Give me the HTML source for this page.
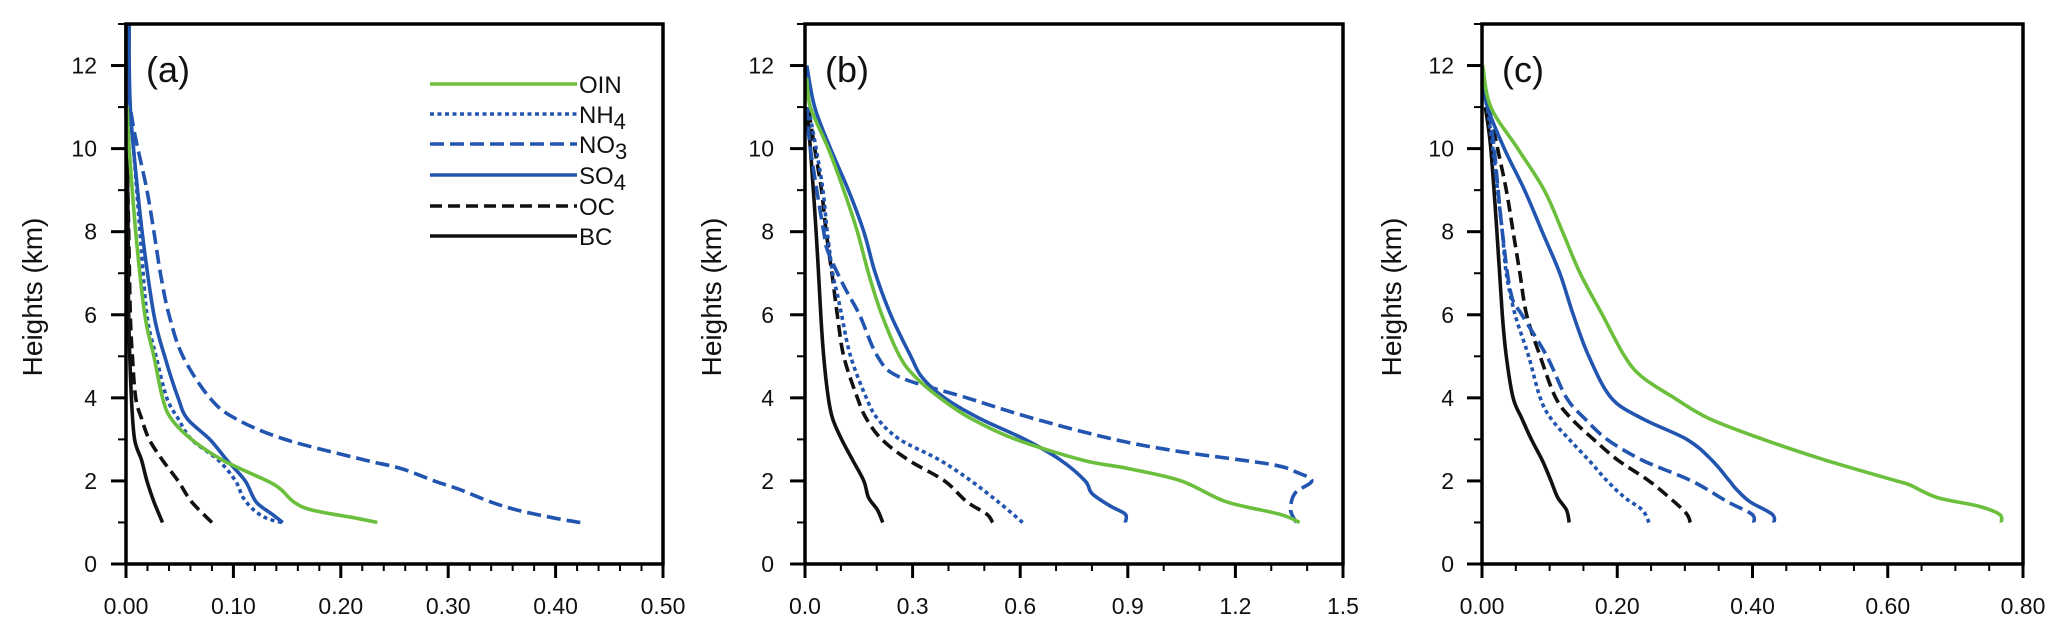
<!DOCTYPE html>
<html><head><meta charset="utf-8"><style>
body{margin:0;background:#fff}
svg{display:block;font-family:"Liberation Sans",Arial,sans-serif}
</style></head><body>
<svg id="chart" width="2067" height="638" viewBox="0 0 2067 638"></svg>
<script>
const heightsA_BC=[1,1.5,2,2.5,3,4,6,8,10,11,13];
const valsA_BC=[0.034,0.026,0.0195,0.0145,0.008,0.005,0.0025,0.002,0.001,0,0];
const heightsA_OC=[1,1.5,2,2.5,3,3.5,4,5,6,8,10,11];
const valsA_OC=[0.080,0.061,0.0485,0.034,0.0216,0.0145,0.009,0.006,0.004,0.0025,0.001,0.0005];
const heightsA_NH4=[1,1.1,1.3,1.6,2,2.5,3,3.5,4,5,6,8,10,11,11.5];
const valsA_NH4=[0.145,0.131,0.119,0.109,0.102,0.086,0.061,0.0485,0.038,0.028,0.0195,0.013,0.007,0.003,0.001];
const heightsA_NO3=[1,1.1,1.3,1.5,1.8,2,2.3,2.5,3,3.5,4,5,6,7,8,9,10,10.5,11,11.5];
const valsA_NO3=[0.423,0.40,0.364,0.339,0.31,0.287,0.256,0.223,0.148,0.102,0.078,0.053,0.040,0.032,0.026,0.0195,0.011,0.007,0.004,0.002];
const heightsA_SO4=[1,1.2,1.5,2,2.5,3,3.5,4,5,6,8,10,11,12,13];
const valsA_SO4=[0.146,0.136,0.121,0.111,0.094,0.078,0.057,0.0485,0.036,0.026,0.015,0.007,0.004,0.003,0.003];
const heightsA_OIN=[1,1.1,1.3,1.5,1.8,2,2.5,3,3.5,4,5,6,8,10,11];
const valsA_OIN=[0.234,0.215,0.173,0.156,0.144,0.1315,0.090,0.061,0.042,0.034,0.026,0.0175,0.009,0.003,0.001];

const heightsB_BC=[1,1.3,1.6,2,2.5,3,3.5,4,5,6,8,10,11];
const valsB_BC=[0.217,0.202,0.177,0.164,0.133,0.102,0.077,0.065,0.052,0.044,0.031,0.015,0.005];
const heightsB_OC=[1,1.2,1.5,2,2.5,3,3.5,4,5,6,7,8,9,10,11];
const valsB_OC=[0.523,0.507,0.451,0.389,0.289,0.214,0.171,0.146,0.108,0.09,0.075,0.059,0.046,0.027,0.009];
const heightsB_NH4=[1,1.5,2,2.5,3,3.5,4,5,6,6.5,7,8,9,10,11];
const valsB_NH4=[0.607,0.538,0.463,0.376,0.264,0.202,0.171,0.127,0.102,0.09,0.077,0.062,0.05,0.031,0.009];
const heightsB_NO3=[1,1.3,1.7,2,2.2,2.4,2.7,3,3.5,4,4.5,5,6,6.7,7.5,8,10,11];
const valsB_NO3=[1.37,1.354,1.366,1.413,1.373,1.298,1.049,0.862,0.638,0.451,0.264,0.202,0.152,0.108,0.065,0.052,0.015,0.005];
const heightsB_SO4=[1,1.2,1.4,1.7,2,2.5,3,3.5,4,4.5,5,6,7,8,9,10,11,12];
const valsB_SO4=[0.893,0.893,0.85,0.80,0.781,0.713,0.613,0.488,0.389,0.326,0.295,0.239,0.196,0.164,0.121,0.071,0.027,0.005];
const heightsB_OIN=[1,1.2,1.5,2,2.3,2.5,3,3.5,4,4.5,5,6,7,8,9,10,11,11.7];
const valsB_OIN=[1.379,1.323,1.174,1.049,0.9,0.775,0.588,0.463,0.376,0.308,0.264,0.214,0.177,0.146,0.108,0.065,0.015,0.005];

const heightsC_BC=[1,1.3,1.6,2,2.5,3,3.5,4,5,6,8,10,11];
const valsC_BC=[0.129,0.125,0.112,0.102,0.089,0.073,0.059,0.046,0.036,0.030,0.022,0.013,0.005];
const heightsC_NH4=[1,1.3,1.6,2,2.5,3,3.5,4,5,6,7,8,9,10,11];
const valsC_NH4=[0.247,0.237,0.211,0.185,0.158,0.129,0.102,0.086,0.069,0.049,0.036,0.030,0.023,0.016,0.008];
const heightsC_OC=[1,1.2,1.5,2,2.5,3,3.5,4,5,6,7,8,9,10,11];
const valsC_OC=[0.308,0.303,0.284,0.247,0.201,0.165,0.132,0.109,0.086,0.066,0.056,0.046,0.036,0.023,0.010];
const heightsC_NO3=[1,1.2,1.5,2,2.5,3,3.5,4,5,6,6.5,8,10,11];
const valsC_NO3=[0.402,0.399,0.363,0.31,0.237,0.185,0.152,0.125,0.096,0.059,0.043,0.030,0.018,0.010];
const heightsC_SO4=[1,1.2,1.5,1.8,2,2.5,3,3.5,4,5,6,7,8,9,10,11,11.5];
const valsC_SO4=[0.432,0.429,0.396,0.376,0.366,0.340,0.303,0.237,0.191,0.158,0.135,0.115,0.089,0.063,0.033,0.008,0.003];
const heightsC_OIN=[1,1.2,1.4,1.6,1.9,2,2.5,3,3.5,4,4.5,5,6,7,8,9,10,11,12];
const valsC_OIN=[0.768,0.765,0.732,0.673,0.633,0.613,0.508,0.416,0.336,0.284,0.237,0.211,0.178,0.145,0.119,0.092,0.053,0.013,0.001];

const xTicksA=["0.00","0.10","0.20","0.30","0.40","0.50"];
const xTicksB=["0.0","0.3","0.6","0.9","1.2","1.5"];
const xTicksC=["0.00","0.20","0.40","0.60","0.80"];
const yTicks=[0,2,4,6,8,10,12];
const legendNames=["OIN","NH4","NO3","SO4","OC","BC"];

const NS="http://www.w3.org/2000/svg";
const svg=document.getElementById('chart');
function mk(tag,attrs,parent){const e=document.createElementNS(NS,tag);for(const k in attrs)e.setAttribute(k,attrs[k]);(parent||svg).appendChild(e);return e;}
const GREEN="#6cbf3c",BLUE="#2155b0",BLACK="#111";
const styles={OIN:{c:GREEN,d:""},NH4:{c:BLUE,d:"4,3.5"},NO3:{c:BLUE,d:"14,6"},SO4:{c:BLUE,d:""},OC:{c:BLACK,d:"12,6"},BC:{c:BLACK,d:""}};

function smoothPath(P){
  let d='M'+P[0][0].toFixed(1)+','+P[0][1].toFixed(1);
  for(let i=0;i<P.length-1;i++){
    const p0=P[i-1]||P[i],p1=P[i],p2=P[i+1],p3=P[i+2]||P[i+1];
    const c1=[p1[0]+(p2[0]-p0[0])/6,p1[1]+(p2[1]-p0[1])/6];
    const c2=[p2[0]-(p3[0]-p1[0])/6,p2[1]-(p3[1]-p1[1])/6];
    d+=' C'+c1.map(v=>v.toFixed(1)).join(',')+' '+c2.map(v=>v.toFixed(1)).join(',')+' '+p2.map(v=>v.toFixed(1)).join(',');
  }
  return d;
}

function panel(id,left,right,xmax,xTicks,minorStep,label,series,titleX,tickLabelX){
  const top=24,bottom=564,ymax=13;
  const g=mk('g',{});
  
  
  const xs=v=>left+(v/xmax)*(right-left);
  const ys=v=>bottom-(v/ymax)*(bottom-top);
  series.forEach(s=>{
    const P=s.h.map((h,i)=>[xs(s.v[i]),ys(h)]);
    const st=styles[s.n];
    const p=mk('path',{d:smoothPath(P),fill:'none',stroke:st.c,'stroke-width':3.6,'stroke-linejoin':'round','stroke-dasharray':st.d},g);
    
    
  });
  const fr=mk('rect',{x:left,y:top,width:right-left,height:bottom-top,fill:'none',stroke:'#000','stroke-width':3.5},g);
  
  
  for(let k=0;k<=13;k++){
    const major=k%2===0;
    mk('line',{x1:left-(major?15:8),x2:left,y1:ys(k),y2:ys(k),stroke:'#000','stroke-width':major?3:2},g);
  }
  yTicks.forEach(t=>{
    const tx=mk('text',{x:tickLabelX,y:ys(t)+8,'font-size':23,'text-anchor':'end',fill:'#111'},g);
    tx.textContent=t;
    
    
  });
  const nMinor=Math.round(xmax/minorStep);
  const majStep=xmax/(xTicks.length-1);
  for(let k=0;k<=nMinor;k++){
    const v=k*minorStep;
    const major=Math.abs(v/majStep-Math.round(v/majStep))<1e-6;
    mk('line',{x1:xs(v),x2:xs(v),y1:bottom,y2:bottom+(major?14:7),stroke:'#000','stroke-width':major?3:2},g);
  }
  xTicks.forEach((t,i)=>{
    const tx=mk('text',{x:xs(i*majStep),y:614,'font-size':23,'text-anchor':'middle',fill:'#111'},g);
    tx.textContent=t;
    
    
  });
  const yt=mk('text',{x:titleX,y:297,'font-size':28,'text-anchor':'middle',fill:'#111',transform:`rotate(-90 ${titleX} 297)`},g);
  yt.textContent='Heights (km)';
  
  
  const pl=mk('text',{x:left+20,y:82,'font-size':36,fill:'#111'},g);
  pl.textContent=label;
  
  
}

panel('a',126,663,0.5,xTicksA,0.02,'(a)',[
 {n:'BC',h:heightsA_BC,v:valsA_BC},{n:'OC',h:heightsA_OC,v:valsA_OC},{n:'NH4',h:heightsA_NH4,v:valsA_NH4},
 {n:'NO3',h:heightsA_NO3,v:valsA_NO3},{n:'SO4',h:heightsA_SO4,v:valsA_SO4},{n:'OIN',h:heightsA_OIN,v:valsA_OIN}],42,97);
panel('b',805,1343,1.5,xTicksB,0.1,'(b)',[
 {n:'BC',h:heightsB_BC,v:valsB_BC},{n:'OC',h:heightsB_OC,v:valsB_OC},{n:'NH4',h:heightsB_NH4,v:valsB_NH4},
 {n:'NO3',h:heightsB_NO3,v:valsB_NO3},{n:'SO4',h:heightsB_SO4,v:valsB_SO4},{n:'OIN',h:heightsB_OIN,v:valsB_OIN}],721,774);
panel('c',1482,2023,0.8,xTicksC,0.05,'(c)',[
 {n:'BC',h:heightsC_BC,v:valsC_BC},{n:'NH4',h:heightsC_NH4,v:valsC_NH4},{n:'OC',h:heightsC_OC,v:valsC_OC},
 {n:'NO3',h:heightsC_NO3,v:valsC_NO3},{n:'SO4',h:heightsC_SO4,v:valsC_SO4},{n:'OIN',h:heightsC_OIN,v:valsC_OIN}],1401,1454);

const lg=mk('g',{});


const legY=[84,114,144,175,206,236];
legendNames.forEach((n,i)=>{
  const st=styles[n];
  const ln=mk('line',{x1:430,x2:577,y1:legY[i],y2:legY[i],stroke:st.c,'stroke-width':3.6,'stroke-dasharray':st.d},lg);
  
  
  const t=mk('text',{x:579,y:legY[i]+9,'font-size':24,fill:'#111'},lg);
  
  
  const m=n.match(/^([A-Z]+)(\d)$/);
  if(m){t.textContent=m[1];const s=mk('tspan',{dy:6,'font-size':22},t);s.textContent=m[2];}
  else t.textContent=n;
});
</script>
</body></html>
